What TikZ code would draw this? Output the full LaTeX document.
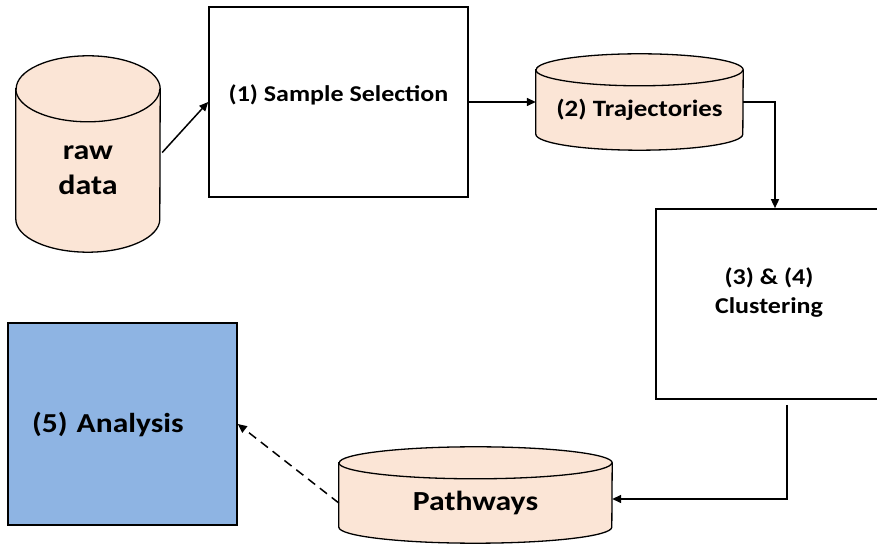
\documentclass[tikz,border=0pt]{standalone}
\usepackage{fontspec}
\setmainfont{Carlito}[FakeStretch=1.15]
\usetikzlibrary{%
    arrows.meta,%
    backgrounds,%
    calc,%
    positioning
}
\definecolor{peach}{HTML}{FBE5D6}
\definecolor{analysisblue}{HTML}{8EB4E3}

\tikzset{
    stage/.style={draw=black,line width=1.6pt,fill=white,align=center,inner sep=0pt},
    store/.style={inner sep=0pt,align=center},
    flow/.style={-{Triangle[length=9pt,width=8pt]},line width=1.5pt},
}

\begin{document}
\begin{tikzpicture}[x=1pt,y=1pt]
    \useasboundingbox (0,0) rectangle (877,545);

    % Processing stages
    \node[stage,minimum width=259pt,minimum height=190pt,text depth=18pt,
          font=\bfseries\fontsize{22.6}{26}\selectfont] (select) at (338.5,443) {(1) Sample Selection};
    \node[stage,minimum width=226pt,minimum height=190pt,text depth=27pt,
          font=\bfseries\fontsize{22.6}{29}\selectfont] (cluster) at (769,241) {(3) \& (4)\\Clustering};
    \node[stage,fill=analysisblue,minimum width=229pt,minimum height=202pt,
          text width=181pt,align=left,inner xsep=24pt,
          font=\bfseries\fontsize{27.4}{32}\selectfont] (analysis) at (122.5,121) {(5) Analysis};

    % Data stores (front part of each cylinder)
    \node[store,minimum width=144pt,minimum height=163pt,
          font=\bfseries\fontsize{27.8}{35}\selectfont] (raw) at (88,374.5) {raw\\data};
    \node[store,minimum width=207pt,minimum height=80pt,
          font=\bfseries\fontsize{23.4}{27}\selectfont] (traj) at (639.5,435) {(2) Trajectories};
    \node[store,minimum width=273pt,minimum height=80pt,
          font=\bfseries\fontsize{27.6}{32}\selectfont] (paths) at (475.5,42) {Pathways};

    % Cylinders behind the store texts
    \begin{scope}[on background layer]
    \foreach \n/\w/\r in {raw/144/33,traj/207/16,paths/273/16}%
    {%
        \draw[line width=1.3pt,fill=peach] (\n.north west) -- ($(\n.south west)+(0,\r)$)
            arc[start angle=180,end angle=360,x radius=\w/2,y radius=\r]
            -- (\n.north east) arc[start angle=0,end angle=180,x radius=\w/2,y radius=\r] -- cycle;
        \draw[line width=1.3pt] (\n.north west) arc[start angle=180,end angle=360,x radius=\w/2,y radius=\r];
    }
    \end{scope}

    % Flow between stages
    \draw[flow] ($(raw.north east)!0.39!(raw.south east)+(2,0)$) -- (select.west);
    \draw[flow] (select.east) -- (select.east -| traj.west);
    \draw[flow] (traj.east |- select.east) -| ($(cluster.north)+(6,0)$);
    \draw[flow] ($(cluster.south)+(18,-5)$) |- ($(paths.east)+(0,4)$);
    \draw[flow,dash pattern=on 9pt off 6pt] (paths.west) -- (analysis.east);
\end{tikzpicture}
\end{document}
